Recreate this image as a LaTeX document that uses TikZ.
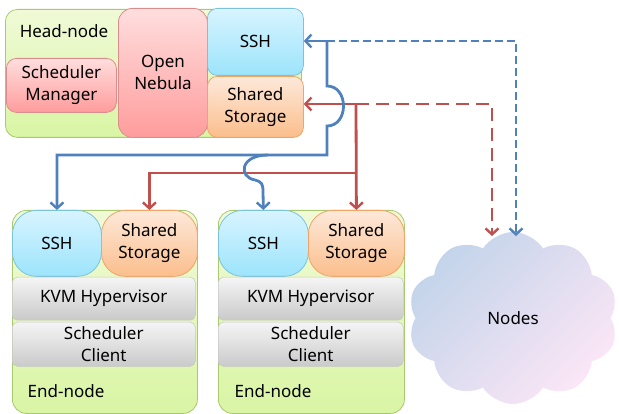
\documentclass[tikz,border=0pt]{standalone}
\usepackage{fontspec}
\setmainfont{Noto Sans}
\usetikzlibrary{arrows.meta,shapes.symbols,calc}
\definecolor{grnA}{HTML}{F0FAD6}
\definecolor{grnB}{HTML}{D9F5A4}
\definecolor{grnD}{HTML}{A9C970}
\definecolor{pnkA}{HTML}{FFDEDE}
\definecolor{pnkB}{HTML}{FF9C9C}
\definecolor{pnkD}{HTML}{D98E8D}
\definecolor{cyA}{HTML}{D8F4FF}
\definecolor{cyB}{HTML}{9CE4FB}
\definecolor{cyD}{HTML}{7DC2DB}
\definecolor{pcA}{HTML}{FDE9DA}
\definecolor{pcB}{HTML}{FBBE8C}
\definecolor{pcD}{HTML}{F0A466}
\definecolor{gyA}{HTML}{F5F5F5}
\definecolor{gyB}{HTML}{CACACA}
\definecolor{gyD}{HTML}{C8C8C8}
\definecolor{clA}{HTML}{C3D4EA}
\definecolor{clB}{HTML}{FBE6F6}
\definecolor{lnB}{HTML}{4F81BD}
\definecolor{lnR}{HTML}{C0504D}
\tikzset{
  txt/.style={font=\fontsize{17}{22}\selectfont, align=center, text=black},
  box/.style={txt, rectangle, anchor=north west, inner sep=0pt},
  greenbox/.style={box, draw=grnD, line width=0.8pt, top color=grnA, bottom color=grnB},
  pinkbox/.style={box, draw=pnkD, line width=0.8pt, top color=pnkA, bottom color=pnkB},
  cyanbox/.style={box, draw=cyD, line width=0.8pt, top color=cyA, bottom color=cyB},
  peachbox/.style={box, draw=pcD, line width=0.8pt, top color=pcA, bottom color=pcB},
  graybox/.style={box, draw=gyD, line width=0.5pt, top color=gyA, bottom color=gyB},
  tip/.style={-{Straight Barb[length=6pt,width=13pt,line width=2.4pt]}},
  bline/.style={draw=lnB, line width=2.8pt},
  rline/.style={draw=lnR, line width=2.8pt},
  bdash/.style={bline, dash pattern=on 8pt off 4pt},
  rdash/.style={rline, dash pattern=on 13pt off 7pt},
}
\newcommand{\bx}[7]{\node[#1, rounded corners=#2, minimum width=#5pt, minimum height=#6pt] (#3) at #4 {#7};}
\begin{document}
\begin{tikzpicture}[x=1pt,y=-1pt]
\useasboundingbox (0,0) rectangle (619,414);
% head node
\bx{greenbox}{12pt}{head}{(5,9)}{296}{128}{}
\node[txt, anchor=center] (headlbl) at (64,31) {Head-node};
\bx{pinkbox}{10pt}{sched}{(6,58)}{110}{54}{Scheduler\\Manager}
\bx{pinkbox}{14pt}{neb}{(118,8)}{89}{129}{}
\node[txt] (neblbl) at (163,72) {Open\\Nebula};
\bx{cyanbox}{10pt}{hssh}{(207,8)}{96}{67}{SSH}
\bx{peachbox}{10pt}{hss}{(207,76)}{96}{61}{Shared\\Storage}
% end nodes
\bx{greenbox}{14pt}{end1}{(12,210)}{185}{203}{}
\bx{greenbox}{14pt}{end2}{(218,210)}{186}{203}{}
\bx{cyanbox}{24pt}{essh1}{(12,210)}{89}{66}{SSH}
\bx{peachbox}{24pt}{ess1}{(101,210)}{96}{66}{Shared\\Storage}
\bx{cyanbox}{24pt}{essh2}{(218,210)}{90}{66}{SSH}
\bx{peachbox}{24pt}{ess2}{(308,210)}{96}{66}{Shared\\Storage}
\bx{graybox}{5pt}{kvm1}{(12,277)}{183}{43}{KVM Hypervisor}
\bx{graybox}{5pt}{kvm2}{(218,277)}{185}{43}{KVM Hypervisor}
\bx{graybox}{5pt}{sc1}{(12,322)}{183}{44}{Scheduler\\Client}
\bx{graybox}{5pt}{sc2}{(218,322)}{185}{44}{Scheduler\\Client}
\node[txt] (e1lbl) at (66,391) {End-node};
\node[txt] (e2lbl) at (273,391) {End-node};
% cloud
\node[cloud, cloud puffs=10, cloud puff arc=115, aspect=1.25, minimum width=210pt, minimum height=172pt, inner sep=0pt,
      top color=clA, bottom color=clB, shading angle=45, txt] (nodes) at (513,318) {Nodes};
% connector coordinates
\coordinate (b1) at (327,41);
\coordinate (bh1) at (327,86);
\coordinate (bh2) at (327,126);
\coordinate (bc) at (327,155);
\coordinate (bb) at (268,155);
\coordinate (bt) at (516,236);
\coordinate (r1) at (356,104);
\coordinate (rc) at (356,173);
\coordinate (rt) at (492,236);
% dashed lines
\draw[bdash, tip] (b1) -| (bt);
\draw[rdash, tip] (r1) -| (rt);
% red solid
\draw[rline, tip] (r1) -- (r1 -| hss.east);
\draw[rline, tip] (r1) -- (ess2.north);
\draw[rline, tip] (rc) -| (ess1.north);
% blue solid
\draw[bline, tip] (b1) -- (b1 -| hssh.east);
\draw[bline, tip] (b1) -- (bh1) .. controls (349,86) and (349,126) .. (bh2) -- (bc) -| (essh1.north);
\draw[bline, tip] (bb) .. controls (240,155) and (238,177) .. (255,180) .. controls (262,182) and (263,184) .. (263,192) -- (essh2.north);
\end{tikzpicture}
\end{document}
